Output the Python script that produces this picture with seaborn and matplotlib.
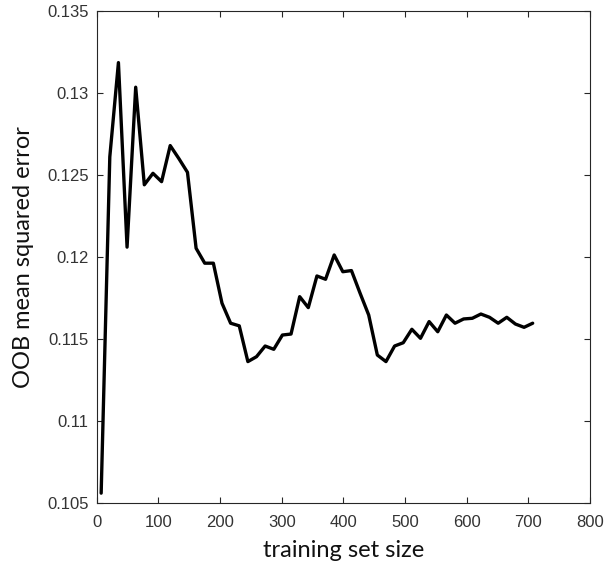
import numpy as np
import pandas as pd
import seaborn as sns
import matplotlib
matplotlib.use("Agg")
import matplotlib.pyplot as plt

train_size = [7, 21, 35, 49, 63, 77, 91, 105, 119, 133, 147, 161, 175, 189, 203,
              217, 231, 245, 259, 273, 287, 301, 315, 329, 343, 357, 371, 385, 399,
              413, 427, 441, 455, 469, 483, 497, 511, 525, 539, 553, 567, 581, 595,
              609, 623, 637, 651, 665, 679, 693, 707]
oob_mse = [0.1056, 0.1261, 0.13185, 0.1206, 0.13035, 0.1244, 0.1251, 0.12459,
           0.12679, 0.1260, 0.12516, 0.12053, 0.11962, 0.11962, 0.11718, 0.11596,
           0.1158, 0.11362, 0.11392, 0.11457, 0.11437, 0.11524, 0.1153, 0.11758,
           0.11691, 0.11884, 0.11864, 0.12012, 0.1191, 0.11917, 0.11779, 0.11646,
           0.11402, 0.11362, 0.11457, 0.11477, 0.11559, 0.11504, 0.11606, 0.11544,
           0.11646, 0.11596, 0.11622, 0.11626, 0.11652, 0.11632, 0.11596, 0.11632,
           0.11591, 0.11571, 0.11596]
x_ticks = [0, 100, 200, 300, 400, 500, 600, 700, 800]
y_ticks = [0.105, 0.11, 0.115, 0.12, 0.125, 0.13, 0.135]
y_tick_labels = ["0.105", "0.11", "0.115", "0.12", "0.125", "0.13", "0.135"]

sns.set_theme(style="white")
plt.rcParams['font.family'] = ['Liberation Sans', 'DejaVu Sans']

df = pd.DataFrame({"size": train_size, "mse": oob_mse})

fig = plt.figure(figsize=(6.13, 5.63), dpi=100)
ax = fig.add_axes([0.158, 0.1066, 0.8045, 0.874])
sns.lineplot(data=df, x="size", y="mse", ax=ax, color="black", linewidth=2.4,
             sort=False)

ax.set_xlim(0, 800)
ax.set_ylim(0.105, 0.135)
ax.set_xticks(x_ticks)
ax.set_xticklabels([str(t) for t in x_ticks])
ax.set_yticks(y_ticks)
ax.set_yticklabels(y_tick_labels)

ax.tick_params(axis="both", which="both", direction="in", length=4, width=0.8,
               color="#262626", labelsize=12, labelcolor="#333333",
               top=True, right=True, bottom=True, left=True)
ax.tick_params(axis="x", pad=8.5)
ax.tick_params(axis="y", pad=6)
for s in ax.spines.values():
    s.set_visible(True)
    s.set_color("#262626")
    s.set_linewidth(0.8)

ax.set_xlabel("training set size", fontsize=17, family=["Lato", "DejaVu Sans"],
              color="#111111", labelpad=7)
ax.set_ylabel("OOB mean squared error", fontsize=17, family=["Lato", "DejaVu Sans"],
              color="#111111", labelpad=9)
ax.grid(False)

fig.savefig("out.png", dpi=100)
